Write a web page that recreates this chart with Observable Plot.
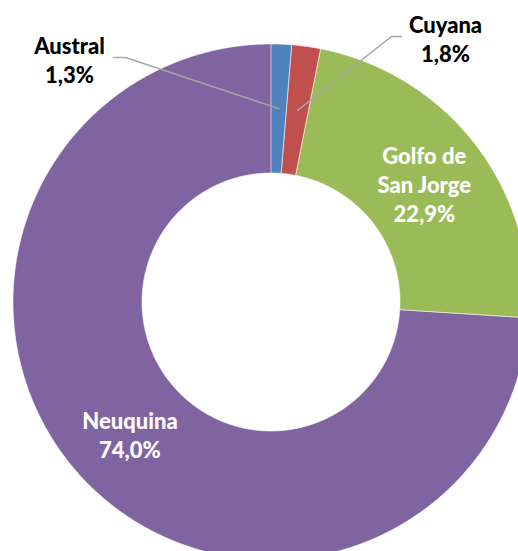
<!DOCTYPE html>
<html><head><meta charset="utf-8">
<script src="https://cdn.jsdelivr.net/npm/d3@7"></script>
<script src="https://cdn.jsdelivr.net/npm/@observablehq/plot@0.6"></script>
<style>body{margin:0;background:#fff;overflow:hidden}</style>
</head><body><div id="chart"></div>
<script>
// ---- data ----
const categories = ["Austral", "Cuyana", "Golfo de San Jorge", "Neuquina"];
const labelText = ["Austral", "Cuyana", "Golfo de\nSan Jorge", "Neuquina"];
const values = [1.3, 1.8, 22.9, 74.0];
const colors = ["#4F81BD", "#C0504D", "#9BBB59", "#8064A2"];

// ---- layout ----
const W = 518, H = 551;
const cx = 270.5, cy = 301.5, R = 258, r0 = 129, rMid = (R + r0) / 2;
// outside label placement (layout, not data)
const outside = {
  "Austral": {x: 69, y: 59, elbow: [[113, 57], [125, 57]]},
  "Cuyana": {x: 445, y: 38, elbow: [[401, 36], [391, 36]]}
};

const fmt = v => d3.format(".1f")(v).replace(".", ",") + "%";
const total = d3.sum(values);
let cum = 0;
const slices = values.map((v, i) => {
  const a0 = cum / total * 2 * Math.PI; cum += v;
  const a1 = cum / total * 2 * Math.PI;
  return {name: categories[i], label: labelText[i], value: v, a0, a1, mid: (a0 + a1) / 2};
});
const pt = (a, rad) => [cx + rad * Math.sin(a), cy - rad * Math.cos(a)];

const ring = [];
for (const s of slices) {
  const n = Math.max(2, Math.ceil((s.a1 - s.a0) / (Math.PI / 360)));
  for (let k = 0; k <= n; k++) {
    const [x, y] = pt(s.a0 + (s.a1 - s.a0) * k / n, R);
    ring.push({name: s.name, x, y});
  }
  for (let k = n; k >= 0; k--) {
    const [x, y] = pt(s.a0 + (s.a1 - s.a0) * k / n, r0);
    ring.push({name: s.name, x, y});
  }
}

const inLabels = [], outLabels = [], leaders = [];
for (const s of slices) {
  const t = s.label + "\n" + fmt(s.value);
  if (outside[s.name]) {
    const o = outside[s.name];
    outLabels.push({x: o.x, y: o.y, text: t});
    for (const [x, y] of o.elbow) leaders.push({name: s.name, x, y});
    const [x, y] = pt(s.mid, rMid);
    leaders.push({name: s.name, x, y});
  } else {
    const [x, y] = pt(s.mid, rMid);
    inLabels.push({x, y, text: t});
  }
}

const chart = Plot.plot({
  width: W, height: H, margin: 0,
  x: {domain: [0, W], range: [0, W], axis: null},
  y: {domain: [0, H], range: [0, H], axis: null},
  color: {domain: categories, range: colors},
  style: {fontFamily: "Lato, sans-serif", background: "white"},
  marks: [
    Plot.line(ring, {x: "x", y: "y", z: "name", fill: "name", stroke: "white", strokeWidth: 0.8, strokeOpacity: 0.7, curve: "linear-closed"}),
    Plot.line(leaders, {x: "x", y: "y", z: "name", stroke: "#A6A6A6", strokeWidth: 1.5}),
    Plot.text(inLabels, {x: "x", y: "y", text: "text", fill: "white", fontSize: 22, fontWeight: 900, lineHeight: 1.33}),
    Plot.text(outLabels, {x: "x", y: "y", text: "text", fill: "black", fontSize: 22, fontWeight: 900, lineHeight: 1.33})
  ]
});
document.getElementById("chart").appendChild(chart);
</script>
</body></html>
